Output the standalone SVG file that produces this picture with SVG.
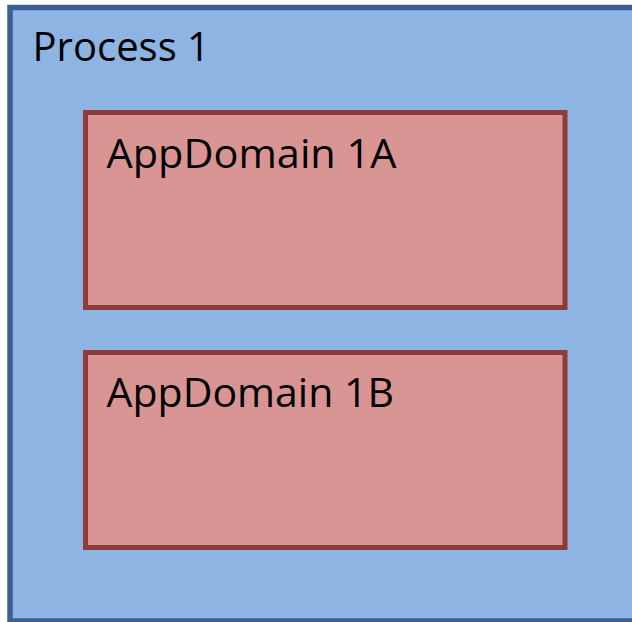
<svg xmlns="http://www.w3.org/2000/svg" width="632" height="622" viewBox="0 0 632 622">
  <style>
    .process { fill: #8EB4E3; stroke: #3B6091; stroke-width: 5.5; }
    .domain { fill: #D99594; stroke: #8E3B3A; stroke-width: 5; }
    .label { font-family: "Open Sans", "Liberation Sans", sans-serif; font-size: 41px; fill: #000000; }
  </style>
  <rect width="632" height="622" fill="#ffffff"/>
  <g id="process1">
    <rect class="process" x="10" y="7.5" width="640" height="613.5"/>
    <text class="label" x="32.5" y="61" textLength="177.5" lengthAdjust="spacingAndGlyphs">Process 1</text>
  </g>
  <g id="appdomain1a">
    <rect class="domain" x="85.5" y="112.5" width="479.5" height="195"/>
    <text class="label" x="106.5" y="168.3" textLength="290" lengthAdjust="spacingAndGlyphs">AppDomain 1A</text>
  </g>
  <g id="appdomain1b">
    <rect class="domain" x="85.5" y="352.5" width="479.5" height="195"/>
    <text class="label" x="106.5" y="406.7" textLength="287.5" lengthAdjust="spacingAndGlyphs">AppDomain 1B</text>
  </g>
  <g id="connectors"/>
</svg>
